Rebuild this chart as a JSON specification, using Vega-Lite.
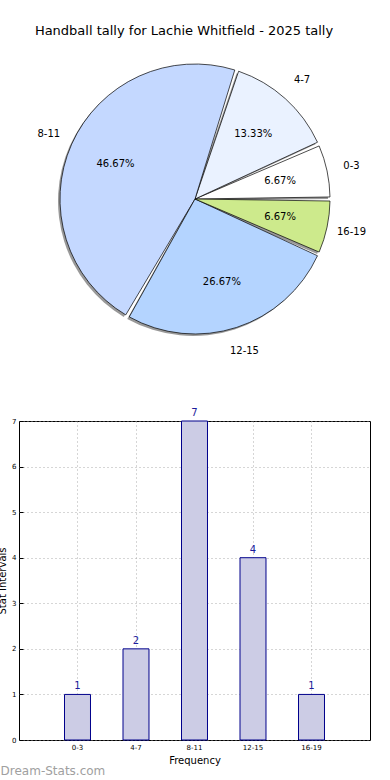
{
  "$schema": "https://vega.github.io/schema/vega-lite/v6.json",
  "padding": {"left": -3, "top": 25, "right": 0, "bottom": 0},
  "spacing": 50,
  "title": {"text": "Handball tally for Lachie Whitfield - 2025 tally", "fontSize": 13, "font": "DejaVu Sans", "fontWeight": "normal", "color": "#000000", "anchor": "middle", "offset": 11},
  "config": {"view": {"stroke": null}, "font": "DejaVu Sans"},
  "datasets": {
    "tally": [
      {"interval": "0-3", "lo": 0, "count": 1, "pct": "6.67%"},
      {"interval": "4-7", "lo": 4, "count": 2, "pct": "13.33%"},
      {"interval": "8-11", "lo": 8, "count": 7, "pct": "46.67%"},
      {"interval": "12-15", "lo": 12, "count": 4, "pct": "26.67%"},
      {"interval": "16-19", "lo": 16, "count": 1, "pct": "6.67%"}
    ]
  },
  "vconcat": [
    {
      "width": 352,
      "height": 300,
      "data": {"name": "tally"},
      "encoding": {
        "theta": {"field": "count", "type": "quantitative", "stack": true, "scale": {"range": [1.5708, -4.7124]}},
        "order": {"field": "lo", "type": "quantitative", "sort": "ascending"},
        "color": {"field": "interval", "type": "nominal", "legend": null,
          "scale": {"domain": ["0-3", "4-7", "8-11", "12-15", "16-19"], "range": ["#ffffff", "#eaf2ff", "#c4d8ff", "#b4d4ff", "#cdea8c"]}}
      },
      "layer": [
        {"mark": {"type": "arc", "outerRadius": 135, "padAngle": 0.03, "fill": "#808080", "fillOpacity": 0.8, "xOffset": -2, "yOffset": 2}},
        {"mark": {"type": "arc", "outerRadius": 135, "padAngle": 0.03, "stroke": "#000000", "strokeWidth": 0.7}},
        {"mark": {"type": "text", "radius": 160, "fontSize": 10}, "encoding": {"text": {"field": "interval"}, "color": {"value": "#000000"}}},
        {"mark": {"type": "text", "radius": 87, "fontSize": 10}, "encoding": {"text": {"field": "pct"}, "color": {"value": "#000000"}}}
      ]
    },
    {
      "width": 351,
      "height": 319,
      "data": {"name": "tally"},
      "view": {"stroke": "#000000", "strokeWidth": 1},
      "title": {"text": "Dream-Stats.com", "orient": "bottom", "anchor": "start", "frame": "bounds", "fontSize": 12, "fontWeight": "normal", "color": "#a0a0a0", "offset": 1, "dx": 3},
      "encoding": {
        "x": {"field": "interval", "type": "nominal", "sort": ["0-3", "4-7", "8-11", "12-15", "16-19"],
          "scale": {"paddingInner": 0.556, "paddingOuter": 0.778},
          "axis": {"title": "Frequency", "titleFontSize": 10, "titleFontWeight": "normal", "titlePadding": 5, "labelFontSize": 7, "labelAngle": 0, "labelPadding": 7, "tickSize": -4, "tickColor": "#000000", "domain": false, "grid": true, "gridDash": [1, 3], "gridColor": "#999999", "gridOpacity": 0.8, "bandPosition": 0.5, "labelColor": "#000000", "titleColor": "#000000"}},
        "y": {"field": "count", "type": "quantitative", "scale": {"domain": [0, 7], "nice": false},
          "axis": {"title": "Stat Intervals", "titleFontSize": 10, "titleFontWeight": "normal", "titlePadding": 4, "labelFontSize": 7, "labelPadding": 7, "tickSize": -4, "tickColor": "#000000", "tickCount": 7, "domain": false, "grid": true, "gridDash": [1, 3], "gridColor": "#999999", "gridOpacity": 0.8, "labelColor": "#000000", "titleColor": "#000000"}}
      },
      "layer": [
        {"mark": {"type": "bar", "fill": "#ccccE5", "stroke": "#00008b", "strokeWidth": 1}},
        {"mark": {"type": "text", "dy": -8, "fontSize": 10, "color": "#1c1c9c"}, "encoding": {"text": {"field": "count"}}}
      ]
    }
  ]
}
